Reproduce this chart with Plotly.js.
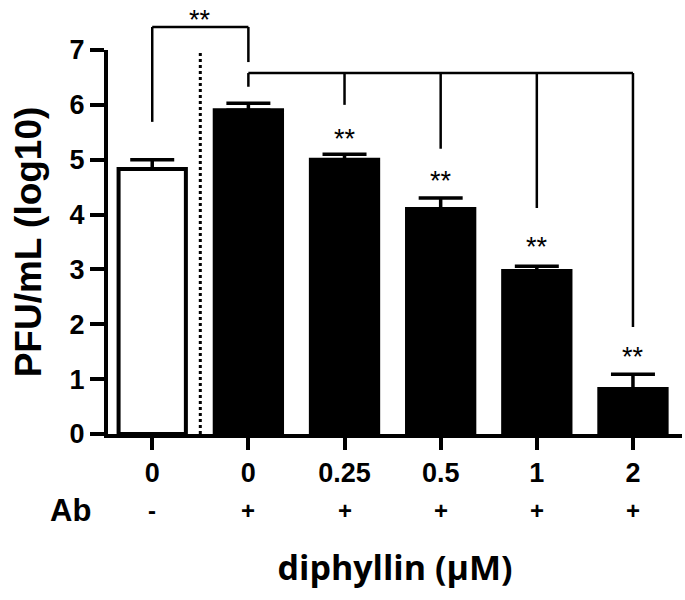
<!DOCTYPE html>
<html>
<head>
<meta charset="utf-8">
<script src="https://cdn.plot.ly/plotly-3.0.1.min.js"></script>
<style>html,body{margin:0;padding:0;background:#fff;}</style>
</head>
<body>
<div id="chart" style="width:685px;height:600px;"></div>
<script>
// ---- data ----
const positions = [0, 1, 2, 3, 4, 5];
const doseLabels = ['0', '0', '0.25', '0.5', '1', '2'];
const abLabels = ['-', '+', '+', '+', '+', '+'];
const pfuLog10 = [4.83, 5.90, 5.00, 4.10, 2.97, 0.82];
const pfuErr = [0.17, 0.13, 0.10, 0.20, 0.09, 0.27];
const sigLabel = '**';
// significance brackets (y in log10 units)
const bracket1 = {x: [0, 1], top: 7.42, ends: [5.69, 6.78]};
const bracket2 = {x: [1, 2, 3, 4, 5], top: 6.58, ends: [6.33, 6.00, 5.20, 4.12, 1.95]};
const starX = [0.5, 2, 3, 4, 5];
const starY = [7.55, 5.37, 4.62, 3.41, 1.41];

// ---- styles ----
const barColors = ['white', 'black', 'black', 'black', 'black', 'black'];
const XR = [-0.46, 5.51], YR = [0, 7];
const px = x => (x - XR[0]) / (XR[1] - XR[0]);
const py = y => (y - YR[0]) / (YR[1] - YR[0]);
const boldArial = {family: 'Liberation Sans, Arial, sans-serif', weight: 'bold', color: 'black'};

const shapes = [];
const lineStyle = {color: 'black', width: 2.5};
function addBracket(b) {
  shapes.push({type: 'line', xref: 'paper', yref: 'paper',
    x0: px(b.x[0]), x1: px(b.x[b.x.length - 1]), y0: py(b.top), y1: py(b.top), line: lineStyle});
  b.x.forEach((x, i) => shapes.push({type: 'line', xref: 'paper', yref: 'paper',
    x0: px(x), x1: px(x), y0: py(b.top), y1: py(b.ends[i]), line: lineStyle}));
}
addBracket(bracket1);
addBracket(bracket2);
shapes.push({type: 'line', xref: 'x', yref: 'y', x0: 0.5, x1: 0.5, y0: 0, y1: 7,
  line: {color: 'black', width: 3, dash: 'dot'}});

const annotations = [];
starX.forEach((x, i) => annotations.push({x: x, xref: 'x', y: py(starY[i]), yref: 'paper',
  text: sigLabel, showarrow: false, yanchor: 'middle', xanchor: 'center', borderpad: 0,
  font: Object.assign({}, boldArial, {size: 27, weight: 'normal'})}));
abLabels.forEach((t, i) => annotations.push({x: positions[i], xref: 'x', y: -0.2, yref: 'paper',
  text: t, showarrow: false, yanchor: 'middle', xanchor: 'center',
  font: Object.assign({}, boldArial, {size: 24})}));
annotations.push({x: -0.026, xref: 'paper', y: -0.2, yref: 'paper', text: 'Ab', showarrow: false,
  xanchor: 'right', yanchor: 'middle', font: Object.assign({}, boldArial, {size: 31})});

const trace = {
  type: 'bar', x: positions, y: pfuLog10, width: 0.7,
  marker: {color: barColors, line: {color: 'black', width: 4}},
  error_y: {type: 'data', symmetric: false, array: pfuErr, arrayminus: pfuErr.map(() => 0),
    color: 'black', thickness: 3.5, width: 22},
  hoverinfo: 'none'
};

const layout = {
  width: 685, height: 600,
  margin: {l: 108, r: 3, t: 50, b: 166},
  paper_bgcolor: 'white', plot_bgcolor: 'white',
  showlegend: false,
  bargap: 0.3,
  xaxis: {range: XR, showgrid: false, zeroline: false, showline: true, linecolor: 'black', linewidth: 4,
    ticks: 'outside', ticklen: 12, tickwidth: 4, tickcolor: 'black',
    tickvals: positions, ticktext: doseLabels,
    tickfont: Object.assign({}, boldArial, {size: 27}),
    title: {text: 'diphyllin (µM)', standoff: 70,
      font: {family: 'Open Sans, sans-serif', weight: 'bold', size: 34, color: 'black'}}},
  yaxis: {range: YR, showgrid: false, zeroline: false, showline: true, linecolor: 'black', linewidth: 4,
    ticks: 'outside', ticklen: 14, tickwidth: 4, tickcolor: 'black',
    tickvals: [0, 1, 2, 3, 4, 5, 6, 7],
    tickfont: Object.assign({}, boldArial, {size: 27}),
    title: {text: 'PFU/mL (log10)', standoff: 18,
      font: Object.assign({}, boldArial, {size: 37})}},
  shapes: shapes,
  annotations: annotations
};

Plotly.newPlot('chart', [trace], layout, {displayModeBar: false, staticPlot: true});
</script>
</body>
</html>
